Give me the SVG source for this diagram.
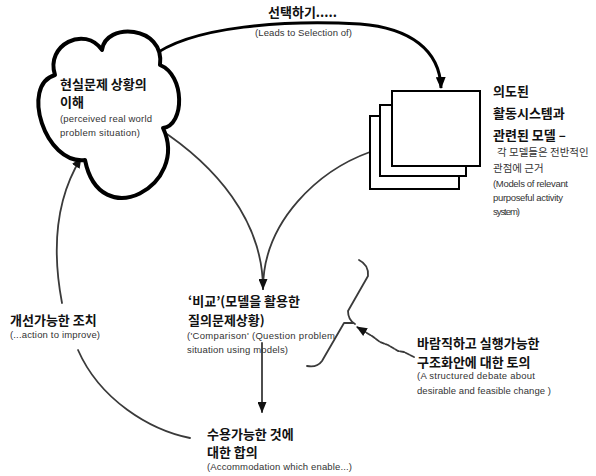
<svg xmlns="http://www.w3.org/2000/svg" width="596" height="476" viewBox="0 0 596 476">
  <style>
    .ko { font-family: "Noto Sans CJK KR", "Noto Sans", sans-serif; font-weight: bold; font-size: 13px; fill: #111; }
    .ko-s { font-family: "Noto Sans CJK KR", "Noto Sans", sans-serif; font-size: 10.5px; fill: #333; }
    .en { font-family: "Liberation Sans", Arial, sans-serif; font-size: 9.5px; fill: #333; }
    .thick { fill: none; stroke: #000; stroke-width: 3; }
    .thin { fill: none; stroke: #3a3a3a; stroke-width: 1.8; stroke-linecap: round; stroke-linejoin: round; }
    .box { fill: #fff; stroke: #000; stroke-width: 2; }
  </style>
  <defs>
    <marker id="ah" viewBox="0 0 12 10" refX="11" refY="5" markerWidth="12" markerHeight="10" orient="auto" markerUnits="userSpaceOnUse">
      <path d="M0,0 L12,5 L0,10 z" fill="#000"/>
    </marker>
    <marker id="ah-s" viewBox="0 0 12 10" refX="11" refY="5" markerWidth="11" markerHeight="9" orient="auto" markerUnits="userSpaceOnUse">
      <path d="M0,0 L12,5 L0,10 z" fill="#111"/>
    </marker>
  </defs>

  <rect width="596" height="476" fill="#fff"/>

  <!-- connectors -->
  <g id="connectors">
    <!-- leads to selection of -->
    <path class="thick" d="M150,58 C190,25 290,20 360,24 C410,28 440,50 441,88" marker-end="url(#ah)"/>
    <!-- situation to comparison -->
    <path class="thin" d="M158,128 C215,165 263,220 263,289"/>
    <!-- models to comparison -->
    <path class="thin" d="M370,152 C320,170 263,220 263,289" marker-end="url(#ah-s)"/>
    <!-- comparison to accommodation -->
    <path class="thin" d="M262,343 L262,412" marker-end="url(#ah-s)"/>
    <!-- accommodation back to action -->
    <path class="thin" d="M190,438 C150,430 100,400 78,350"/>
    <!-- action to improve back into situation -->
    <path class="thin" d="M62,303 C52,250 55,200 81,158" marker-end="url(#ah-s)"/>
    <!-- debate fork -->
    <path class="thin" d="M359,260 Q369,265 368,276 L348,311 Q348,320 355,324"/>
    <path class="thin" d="M353,323 L344,323 L322,361 Q317,368 307,366"/>
    <!-- debate feeding in -->
    <path class="thin" d="M414,357 L404,352 L398,351 L388,345 L380,342 L372,336 L357,327" stroke-dasharray="4 1.5" marker-end="url(#ah-s)"/>
  </g>

  <!-- perceived real world problem situation -->
  <g id="situation">
    <path d="M55,75 C45,45 85,25 102,50 C105,22 165,25 160,65 C185,75 185,125 163,128 C190,185 100,235 85,160 C45,165 20,85 55,75 Z" fill="#fff" stroke="#000" stroke-width="4" stroke-linejoin="round"/>
    <text class="ko" x="60" y="89">현실문제 상황의</text>
    <text class="ko" x="60" y="107">이해</text>
    <text class="en" x="60" y="122" textLength="92" lengthAdjust="spacing">(perceived real world</text>
    <text class="en" x="60" y="136" textLength="80" lengthAdjust="spacing">problem situation)</text>
  </g>

  <!-- selection label -->
  <g id="selection">
    <text class="ko" x="268" y="17">선택하기.....</text>
    <text class="en" x="255" y="36" textLength="97" lengthAdjust="spacing">(Leads to Selection of)</text>
  </g>

  <!-- models of relevant purposeful activity system -->
  <g id="models">
    <rect class="box" x="370" y="116" width="89" height="73"/>
    <rect class="box" x="380" y="105" width="86" height="71"/>
    <rect class="box" x="392" y="91" width="88" height="75"/>
    <text class="ko" x="493" y="96" font-size="15">의도된</text>
    <text class="ko" x="493" y="118" font-size="15">활동시스템과</text>
    <text class="ko" x="493" y="140" font-size="15">관련된 모델 –</text>
    <text class="ko-s" x="497" y="156">각 모델들은 전반적인</text>
    <text class="ko-s" x="493" y="172">관점에 근거</text>
    <text class="en" x="493" y="187" textLength="75" lengthAdjust="spacing">(Models of relevant</text>
    <text class="en" x="493" y="201" textLength="70" lengthAdjust="spacing">purposeful activity</text>
    <text class="en" x="493" y="215" textLength="27" lengthAdjust="spacing">system)</text>
  </g>

  <!-- comparison -->
  <g id="comparison">
    <text class="ko" x="188" y="306" font-size="13.5">‘비교’(모델을 활용한</text>
    <text class="ko" x="188" y="325" font-size="13.5">질의문제상황)</text>
    <text class="en" x="187" y="339" textLength="148" lengthAdjust="spacing">('Comparison'  (Question problem</text>
    <text class="en" x="187" y="353" textLength="101" lengthAdjust="spacing">situation using models)</text>
  </g>

  <!-- action to improve -->
  <g id="action">
    <text class="ko" x="10" y="325">개선가능한 조치</text>
    <text class="en" x="10" y="338" textLength="90" lengthAdjust="spacing">(...action to improve)</text>
  </g>

  <!-- structured debate -->
  <g id="debate">
    <text class="ko" x="417" y="348">바람직하고 실행가능한</text>
    <text class="ko" x="417" y="367">구조화안에 대한 토의</text>
    <text class="en" x="417" y="379" textLength="118" lengthAdjust="spacing">(A structured  debate about</text>
    <text class="en" x="417" y="394" textLength="134" lengthAdjust="spacing">desirable and feasible change )</text>
  </g>

  <!-- accommodation -->
  <g id="accommodation">
    <text class="ko" x="207" y="439">수용가능한 것에</text>
    <text class="ko" x="207" y="457">대한 합의</text>
    <text class="en" x="207" y="470" textLength="145" lengthAdjust="spacing">(Accommodation which enable...)</text>
  </g>
</svg>
